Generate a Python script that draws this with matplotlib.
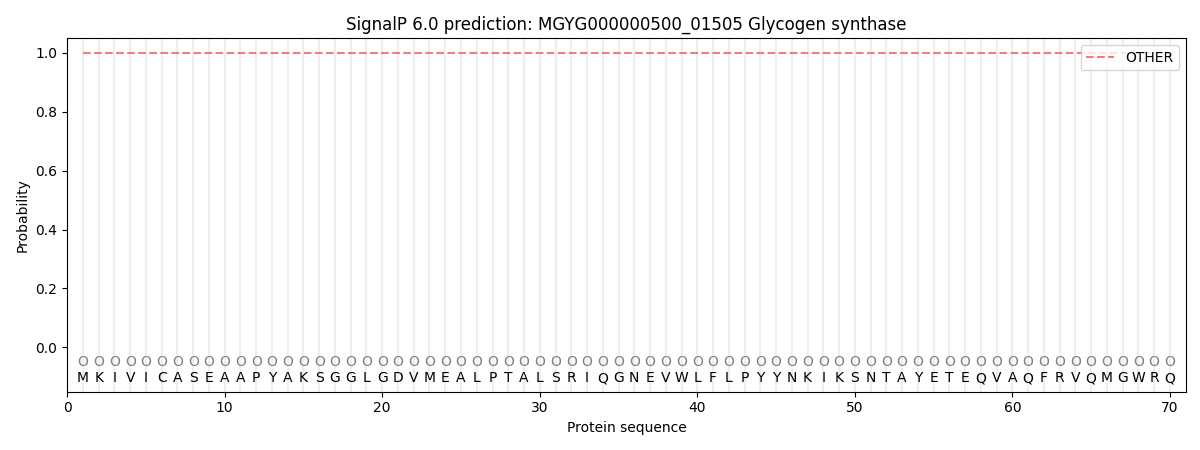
import numpy as np
import matplotlib
matplotlib.use("Agg")
import matplotlib.pyplot as plt

# Data
sequence = list("MKIVICASEAAPYAKSGGLGDVMEALPTALSRIQGNEVWLFLPYYNKIKSNTAYETEQVAQFRVQMGWRQ")
positions = np.arange(1, len(sequence) + 1)
other_prob = [1.0] * len(sequence)
pred_labels = ["O"] * len(sequence)

fig, ax = plt.subplots(figsize=(12, 4.5), dpi=100)

# light vertical guide at every residue
for p in positions:
    ax.axvline(p, color="#eeeeee", linewidth=1.5, zorder=0)

ax.plot(positions, other_prob, linestyle="--", color="#f07070", alpha=0.9,
        linewidth=1.5, label="OTHER")

for p, lab, aa in zip(positions, pred_labels, sequence):
    ax.text(p, -0.05, lab, ha="center", va="center", color="#808080", fontsize=10)
    ax.text(p, -0.105, aa, ha="center", va="center", color="black", fontsize=10)

ax.set_xlim(0, 71)
ax.set_ylim(-0.15, 1.05)
ax.set_xlabel("Protein sequence")
ax.set_ylabel("Probability")
ax.set_title("SignalP 6.0 prediction: MGYG000000500_01505 Glycogen synthase")
ax.legend(loc="upper right")

plt.subplots_adjust(left=0.056, right=0.988, top=0.915, bottom=0.13)
plt.savefig("out.png")
